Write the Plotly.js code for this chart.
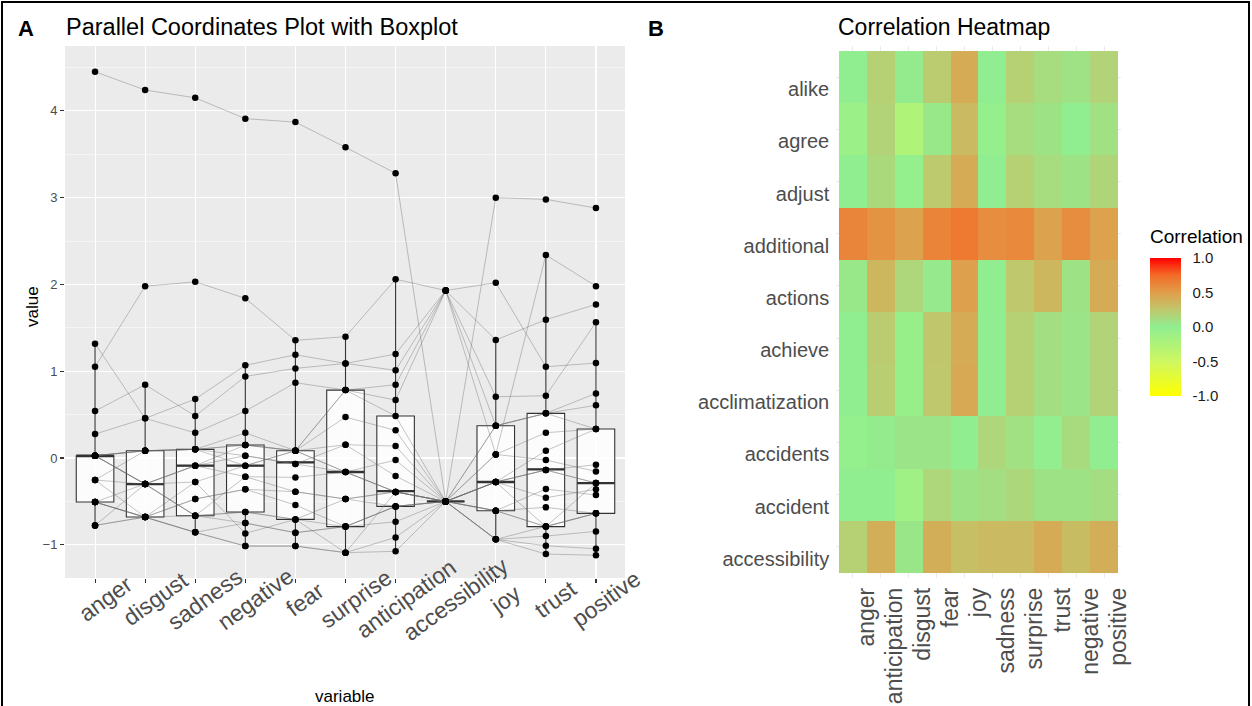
<!DOCTYPE html>
<html>
<head>
<meta charset="utf-8">
<script src="https://cdn.plot.ly/plotly-3.0.1.min.js"></script>
<style>
html,body{margin:0;padding:0;background:#fff;overflow:hidden;}
#chart{width:1252px;height:706px;position:absolute;left:0;top:0;}
#frame{position:absolute;left:1px;top:1px;width:1249px;height:710px;border:2px solid #000;box-sizing:border-box;pointer-events:none;z-index:10;}
</style>
</head>
<body>
<div id="chart"></div>
<div id="frame"></div>
<script>
// ---------- Panel A data (scaled values, one entry per observation) ----------
const variables = ["anger","disgust","sadness","negative","fear","surprise","anticipation","accessibility","joy","trust","positive"];
const anger        = [4.45,1.052,1.317,0.541,0.276,0.027,0.027,0.027,-0.253,0.027,-0.507,0.027,-0.776,0.027,-0.253,-0.507,0.027,-0.507,-0.776,0.027,-0.253,-0.507,-0.776,-0.507];
const disgust      = [4.24,1.98,0.457,0.845,0.457,0.084,0.084,-0.30,0.084,-0.30,-0.68,0.084,-0.68,-0.30,-0.30,-0.68,0.084,-0.30,-0.68,-0.30,-0.68,-0.68,-0.30,-0.68];
const sadness      = [4.15,2.03,0.68,0.484,0.29,0.10,0.10,-0.088,0.10,-0.276,-0.472,0.10,-0.664,-0.088,-0.664,-0.856,0.10,-0.088,-0.472,-0.664,-0.276,-0.856,-0.664,-0.856];
const negative     = [3.91,1.84,1.068,0.94,0.541,0.15,0.29,0.15,0.027,-0.088,-0.36,0.15,-0.622,0.027,-0.215,-0.749,-0.088,-0.215,-0.36,-0.622,-0.868,-1.014,-0.749,-1.014];
const fear         = [3.87,1.356,1.19,1.033,0.868,0.084,0.084,0.084,-0.069,0.084,-0.388,0.084,-0.707,-0.069,-0.223,-0.86,0.084,-0.388,-0.541,-0.707,-0.707,-1.014,-0.86,-1.014];
const surprise     = [3.58,1.398,1.09,1.09,0.783,0.783,0.783,0.472,0.153,-0.161,-0.472,0.153,-0.79,-0.161,-0.161,-0.79,-0.161,-0.472,-0.79,-0.472,-1.09,-1.09,-0.79,-1.09];
const anticipation = [3.28,2.06,1.198,1.01,0.845,0.668,0.484,0.319,0.138,-0.023,-0.39,-0.207,-0.557,-0.39,-0.39,-0.557,-0.39,-0.39,-0.734,-0.557,-0.39,-0.914,-0.557,-1.075];
const accessibility= [-0.5,1.93,1.93,1.93,1.93,1.93,-0.5,-0.5,-0.5,-0.5,-0.5,-0.5,-0.5,-0.5,-0.5,-0.5,-0.5,-0.5,-0.5,-0.5,-0.5,-0.5,-0.5,-0.5];
const joy          = [3.0,2.02,1.36,0.042,0.706,0.372,0.372,-0.276,0.042,0.372,-0.607,-0.276,-0.937,0.042,-0.276,-0.607,-0.276,-0.937,-0.607,-0.276,-0.937,-0.276,-0.607,-0.937];
const trust        = [2.98,1.052,1.594,2.34,0.718,0.515,0.515,-0.138,0.292,0.515,-0.357,0.084,-0.79,-0.023,-0.138,-0.79,-0.138,-0.899,-0.568,-0.457,-1.01,-0.79,-0.79,-1.106];
const positive     = [2.88,1.094,1.77,1.98,1.563,0.745,0.607,-0.077,0.334,0.334,-0.426,0.334,-0.637,-0.154,-0.288,-0.637,-0.288,-0.845,-0.637,-0.36,-1.045,-0.288,-0.637,-1.12];

// box statistics per variable
const boxQ1     = [-0.507,-0.68,-0.664,-0.622,-0.707,-0.79,-0.557,-0.5,-0.607,-0.79,-0.637];
const boxMedian = [0.027,-0.30,-0.088,-0.088,-0.05,-0.161,-0.38,-0.5,-0.276,-0.13,-0.288];
const boxQ3     = [0.027,0.084,0.10,0.15,0.084,0.783,0.484,-0.5,0.372,0.515,0.334];
const boxLow    = [-0.776,-0.68,-0.856,-1.014,-1.014,-1.09,-1.075,-0.5,-0.937,-1.106,-1.12];
const boxHigh   = [1.317,0.845,0.68,1.068,1.356,1.398,2.06,-0.5,1.36,2.34,1.563];

// ---------- Panel B data ----------
const words = ["alike","agree","adjust","additional","actions","achieve","acclimatization","accidents","accident","accessibility"];
const emotions = ["anger","anticipation","disgust","fear","joy","sadness","surprise","trust","negative","positive"];
const corrAlike          = [0.0,0.20,0.02,0.23,0.42,0.0,0.20,0.12,0.08,0.18];
const corrAgree          = [-0.09,0.18,-0.25,0.04,0.33,-0.04,0.12,0.07,0.0,0.09];
const corrAdjust         = [0.0,0.14,-0.03,0.24,0.42,0.0,0.20,0.12,0.07,0.17];
const corrAdditional     = [0.62,0.55,0.47,0.63,0.68,0.58,0.60,0.47,0.58,0.47];
const corrActions        = [0.04,0.35,0.16,0.03,0.48,0.0,0.25,0.35,0.07,0.42];
const corrAchieve        = [0.0,0.23,-0.06,0.26,0.42,0.0,0.20,0.10,0.06,0.18];
const corrAcclimatization= [0.0,0.22,-0.06,0.25,0.43,0.0,0.20,0.10,0.06,0.18];
const corrAccidents      = [-0.03,0.02,0.06,0.06,0.0,0.16,0.09,-0.02,0.13,0.0];
const corrAccident       = [0.0,0.0,-0.12,0.16,0.07,0.10,0.15,0.07,0.07,0.10];
const corrAccessibility  = [0.20,0.40,0.05,0.40,0.30,0.33,0.33,0.42,0.32,0.40];
const legendTicks = [-1,-0.5,0,0.5,1];
const legendTickText = ["-1.0","-0.5","0.0","0.5","1.0"];

// ---------- build ----------
const W = 1252, H = 706;
const FONT = "Liberation Sans, Arial, sans-serif";
const GREY30 = "#4D4D4D";
const columns = [anger,disgust,sadness,negative,fear,surprise,anticipation,accessibility,joy,trust,positive];
const nObs = anger.length;
const xIdx = variables.map((_,i)=>i);

const traces = [];
// boxes
traces.push({
  type:"box", xaxis:"x", yaxis:"y",
  x:xIdx, q1:boxQ1, median:boxMedian, q3:boxQ3, lowerfence:boxLow, upperfence:boxHigh,
  width:0.75, boxpoints:false, fillcolor:"rgba(255,255,255,0.85)",
  line:{color:"#333333", width:1.1}, whiskerwidth:0, showlegend:false, hoverinfo:"skip"
});
// thick median bars
const mx=[], my=[];
boxMedian.forEach((m,i)=>{ mx.push(i-0.375,i+0.375,null); my.push(m,m,null); });
traces.push({type:"scatter", mode:"lines", x:mx, y:my, xaxis:"x", yaxis:"y",
  line:{color:"#333333", width:2.3}, showlegend:false, hoverinfo:"skip"});
// parallel coordinate lines
for(let o=0;o<nObs;o++){
  traces.push({type:"scatter", mode:"lines", x:xIdx, y:columns.map(c=>c[o]),
    xaxis:"x", yaxis:"y", line:{color:"rgba(100,100,100,0.42)", width:0.9},
    showlegend:false, hoverinfo:"skip"});
}
// points
const px=[], py=[];
columns.forEach((c,i)=>c.forEach(v=>{px.push(i);py.push(v);}));
traces.push({type:"scatter", mode:"markers", x:px, y:py, xaxis:"x", yaxis:"y",
  marker:{color:"#000", size:6.5}, showlegend:false, hoverinfo:"skip"});

// heatmap
const corrRows = [corrAlike,corrAgree,corrAdjust,corrAdditional,corrActions,corrAchieve,corrAcclimatization,corrAccidents,corrAccident,corrAccessibility];
traces.push({
  type:"heatmap", xaxis:"x2", yaxis:"y2", x:emotions, y:words, z:corrRows,
  zmin:-1, zmax:1, xgap:0, ygap:0,
  colorscale:[[0,"rgb(255,255,0)"],[0.25,"rgb(206,247,97)"],[0.5,"rgb(144,238,144)"],
              [0.625,"rgb(191,200,109)"],[0.75,"rgb(224,157,74)"],[0.875,"rgb(243,108,40)"],[1,"rgb(255,0,0)"]],
  colorbar:{
    x:1150/W, xanchor:"left", xpad:0, y:(H-327)/H, yanchor:"middle", ypad:0,
    len:138, lenmode:"pixels", thickness:31, outlinewidth:0,
    tickvals:legendTicks, ticktext:legendTickText,
    ticks:"outside", ticklen:9, tickcolor:"rgba(255,255,255,0)", tickwidth:1,
    tickfont:{family:FONT, size:15, color:"#1a1a1a"}
  },
  hoverinfo:"skip"
});

const px2w = v => v/W, py2h = v => (H - v)/H;

const annotations = [
  {text:"<b>A</b>", x:px2w(16), y:py2h(28), xref:"paper", yref:"paper", xanchor:"left", yanchor:"middle", showarrow:false, font:{family:FONT,size:22,color:"#000"}},
  {text:"Parallel Coordinates Plot with Boxplot", x:px2w(64), y:py2h(27), xref:"paper", yref:"paper", xanchor:"left", yanchor:"middle", showarrow:false, font:{family:FONT,size:23.5,color:"#000"}},
  {text:"<b>B</b>", x:px2w(646), y:py2h(28), xref:"paper", yref:"paper", xanchor:"left", yanchor:"middle", showarrow:false, font:{family:FONT,size:22,color:"#000"}},
  {text:"Correlation Heatmap", x:px2w(836), y:py2h(27), xref:"paper", yref:"paper", xanchor:"left", yanchor:"middle", showarrow:false, font:{family:FONT,size:23,color:"#000"}},
  {text:"Correlation", x:px2w(1148), y:py2h(236), xref:"paper", yref:"paper", xanchor:"left", yanchor:"middle", showarrow:false, font:{family:FONT,size:19,color:"#000"}},
  {text:"value", x:px2w(32), y:py2h(307), xref:"paper", yref:"paper", xanchor:"center", yanchor:"middle", textangle:-90, showarrow:false, font:{family:FONT,size:17,color:"#000"}},
  {text:"variable", x:px2w(345), y:py2h(696), xref:"paper", yref:"paper", xanchor:"center", yanchor:"middle", showarrow:false, font:{family:FONT,size:17,color:"#000"}}
];
variables.forEach((v,i)=>{
  annotations.push({text:v, x:i, xref:"x", y:py2h(599), yref:"paper", xshift:10,
    xanchor:"center", yanchor:"middle", textangle:-36, showarrow:false,
    font:{family:FONT,size:23,color:GREY30}});
});

const layout = {
  width:W, height:H, margin:{l:0,r:0,t:0,b:0,pad:0},
  paper_bgcolor:"#ffffff", plot_bgcolor:"#ffffff",
  font:{family:FONT},
  showlegend:false,
  xaxis:{domain:[65/W, 625/W], range:[-0.6,10.58], tickvals:xIdx, ticktext:variables,
    showticklabels:false, ticks:"outside", ticklen:4, tickwidth:1.1, tickcolor:"#333333",
    showgrid:true, gridcolor:"#ffffff", gridwidth:1.1, zeroline:false, showline:false,
    anchor:"y", automargin:false, fixedrange:true},
  yaxis:{domain:[py2h(578), py2h(46)], range:[-1.382,4.747], tickvals:[-1,0,1,2,3,4],
    ticks:"outside", ticklen:4, tickwidth:1.1, tickcolor:"#333333",
    tickfont:{family:FONT,size:13,color:GREY30},
    showgrid:true, gridcolor:"#ffffff", gridwidth:1.1, zeroline:false, showline:false,
    minor:{tickvals:[-0.5,0.5,1.5,2.5,3.5,4.5], showgrid:true, gridcolor:"#ffffff", gridwidth:0.5, ticks:""},
    anchor:"x", automargin:false, fixedrange:true},
  xaxis2:{domain:[836.2/W, 1120.8/W], range:[-0.6,9.6], type:"category",
    tickmode:"array", tickvals:emotions, ticktext:emotions,
    tickangle:-90, tickfont:{family:FONT,size:23,color:GREY30}, ticks:"", ticklabelshift:14, ticklabelstandoff:4,
    showgrid:true, gridcolor:"#EBEBEB", gridwidth:1, zeroline:false, showline:false,
    anchor:"y2", automargin:false, fixedrange:true},
  yaxis2:{domain:[py2h(578.2), py2h(45.8)], range:[9.6,-0.6], type:"category",
    tickmode:"array", tickvals:words, ticktext:words,
    tickfont:{family:FONT,size:20,color:GREY30}, ticks:"", ticklabelshift:-12, ticklabelstandoff:6,
    showgrid:true, gridcolor:"#EBEBEB", gridwidth:1, zeroline:false, showline:false,
    anchor:"x2", automargin:false, fixedrange:true},
  annotations:annotations
};

// grey panel background for panel A
layout.shapes = [{type:"rect", xref:"x domain", yref:"y domain", x0:0, x1:1, y0:0, y1:1,
  fillcolor:"#EBEBEB", line:{width:0}, layer:"below"}];

Plotly.newPlot("chart", traces, layout, {staticPlot:true, displayModeBar:false});
</script>
</body>
</html>
